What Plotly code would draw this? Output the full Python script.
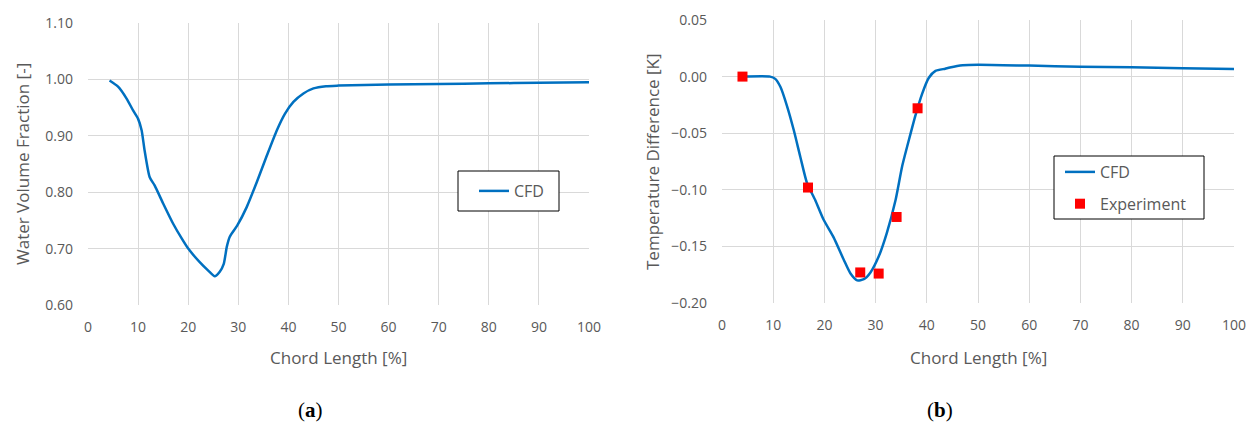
import plotly.graph_objects as go

# (a) Water volume fraction CFD
a_x = [4.3, 6.0, 7.7, 9.0, 10.0, 10.7, 11.3, 12.3, 13.3, 15.0, 17.0, 18.7, 20.0, 22.3, 24.0, 25.3,
       26.3, 27.1, 27.7, 28.3, 29.8, 31.7, 33.7, 35.7, 37.7, 39.3, 41.0, 43.0, 45.0, 47.5, 50.0,
       60.0, 70.0, 80.0, 90.0, 100.0]
a_y = [0.998, 0.987, 0.966, 0.945, 0.930, 0.910, 0.874, 0.827, 0.812, 0.780, 0.744, 0.718, 0.700,
       0.676, 0.661, 0.651, 0.659, 0.673, 0.703, 0.721, 0.741, 0.774, 0.818, 0.865, 0.910, 0.939,
       0.960, 0.975, 0.984, 0.988, 0.989, 0.991, 0.992, 0.993, 0.994, 0.995]

# (b) Temperature difference CFD
b_x = [3.9, 9.4, 10.4, 11.4, 12.7, 14.0, 15.3, 16.6, 18.2, 19.8, 21.8, 23.8, 25.1, 26.4, 27.7,
       29.0, 30.6, 32.2, 33.9, 35.2, 36.5, 37.8, 39.1, 40.4, 41.7, 43.6, 44.5, 47.0, 50.0, 60.0,
       70.0, 80.0, 90.0, 100.0]
b_y = [0.0, 0.0, -0.002, -0.009, -0.026, -0.047, -0.071, -0.094, -0.109, -0.126, -0.142, -0.162,
       -0.174, -0.180, -0.179, -0.173, -0.159, -0.138, -0.109, -0.079, -0.056, -0.034, -0.015,
       -0.001, 0.005, 0.007, 0.008, 0.010, 0.0105, 0.0097, 0.0088, 0.0082, 0.0074, 0.0068]

# (b) Experiment
exp_x = [4.0, 16.8, 27.0, 30.6, 34.1, 38.2]
exp_y = [0.0, -0.098, -0.173, -0.174, -0.124, -0.028]

x_ticks = [0, 10, 20, 30, 40, 50, 60, 70, 80, 90, 100]
a_ticks = [0.60, 0.70, 0.80, 0.90, 1.00, 1.10]
b_ticks = [-0.20, -0.15, -0.10, -0.05, 0.00, 0.05]

BLUE = "#0070C0"
GRID = "#d9d9d9"
TXT = "#595959"
FONT = "Open Sans"
W, H = 1254, 423

fig = go.Figure()
fig.add_trace(go.Scatter(x=a_x, y=a_y, mode="lines", name="CFD", showlegend=True,
                         line=dict(color=BLUE, width=2.5, shape="spline", smoothing=0.6),
                         xaxis="x", yaxis="y", legend="legend"))
fig.add_trace(go.Scatter(x=b_x, y=b_y, mode="lines", name="CFD", showlegend=True, legendgroup="g1",
                         line=dict(color=BLUE, width=2.5, shape="spline", smoothing=0.6),
                         xaxis="x2", yaxis="y2", legend="legend2"))
fig.add_trace(go.Scatter(x=exp_x, y=exp_y, mode="markers", name="Experiment", showlegend=True, legendgroup="g2",
                         marker=dict(color="#FF0000", symbol="square", size=10),
                         xaxis="x2", yaxis="y2", legend="legend2"))

def px_x(p): return p / W
def px_y(p): return 1 - p / H

ax_common = dict(showgrid=True, gridcolor=GRID, gridwidth=1, zeroline=False, showline=False,
                 ticks="", automargin=False, tickfont=dict(family=FONT, size=14, color=TXT))

leg_common = dict(xanchor="left", yanchor="middle", borderwidth=0, visible=True,
                  bgcolor="rgba(0,0,0,0)", font=dict(family=FONT, size=16, color=TXT), itemwidth=30,
                  tracegroupgap=8)

box_style = dict(type="rect", xref="paper", yref="paper", line=dict(color="black", width=1),
                 fillcolor="white", layer="above")

ann_common = dict(xref="paper", yref="paper", showarrow=False, xanchor="center", yanchor="middle")

fig.update_layout(
    width=W, height=H, margin=dict(l=0, r=0, t=0, b=0, autoexpand=False),
    paper_bgcolor="white", plot_bgcolor="white", showlegend=True,
    font=dict(family=FONT, color=TXT),
    xaxis=dict(domain=[px_x(88), px_x(589)], range=[0, 100], tickvals=x_ticks, anchor="y",
               ticklabelstandoff=12, **ax_common),
    yaxis=dict(domain=[px_y(305), px_y(23)], range=[0.6, 1.1], tickvals=a_ticks, tickformat=".2f",
               anchor="x", ticklabelstandoff=14, **ax_common),
    xaxis2=dict(domain=[px_x(722), px_x(1234)], range=[0, 100], tickvals=x_ticks, anchor="y2",
                ticklabelstandoff=12, **ax_common),
    yaxis2=dict(domain=[px_y(303), px_y(20)], range=[-0.2, 0.05], tickvals=b_ticks, tickformat=".2f",
                anchor="x2", ticklabelstandoff=14, **ax_common),
    legend=dict(x=px_x(474), y=px_y(191), **leg_common),
    legend2=dict(x=px_x(1060), y=px_y(188), **leg_common),
    shapes=[
        dict(x0=px_x(458), x1=px_x(559), y0=px_y(211), y1=px_y(171), **box_style),
        dict(x0=px_x(1054), x1=px_x(1204), y0=px_y(219), y1=px_y(156), **box_style),
    ],
    annotations=[
        dict(text="Chord Length [%]", x=px_x(338), y=px_y(357), font=dict(family=FONT, size=17, color=TXT), **ann_common),
        dict(text="Chord Length [%]", x=px_x(978), y=px_y(357), font=dict(family=FONT, size=17, color=TXT), **ann_common),
        dict(text="Water Volume Fraction [-]", x=px_x(22), y=px_y(164), textangle=-90,
             font=dict(family=FONT, size=17, color=TXT), **ann_common),
        dict(text="Temperature Difference [K]", x=px_x(652), y=px_y(162), textangle=-90,
             font=dict(family=FONT, size=17, color=TXT), **ann_common),
        dict(text="(<b>a</b>)", x=px_x(310), y=px_y(410), font=dict(family="Liberation Serif", size=21, color="black"), **ann_common),
        dict(text="(<b>b</b>)", x=px_x(940), y=px_y(410), font=dict(family="Liberation Serif", size=21, color="black"), **ann_common),
    ],
)

fig.write_html("out.html")
